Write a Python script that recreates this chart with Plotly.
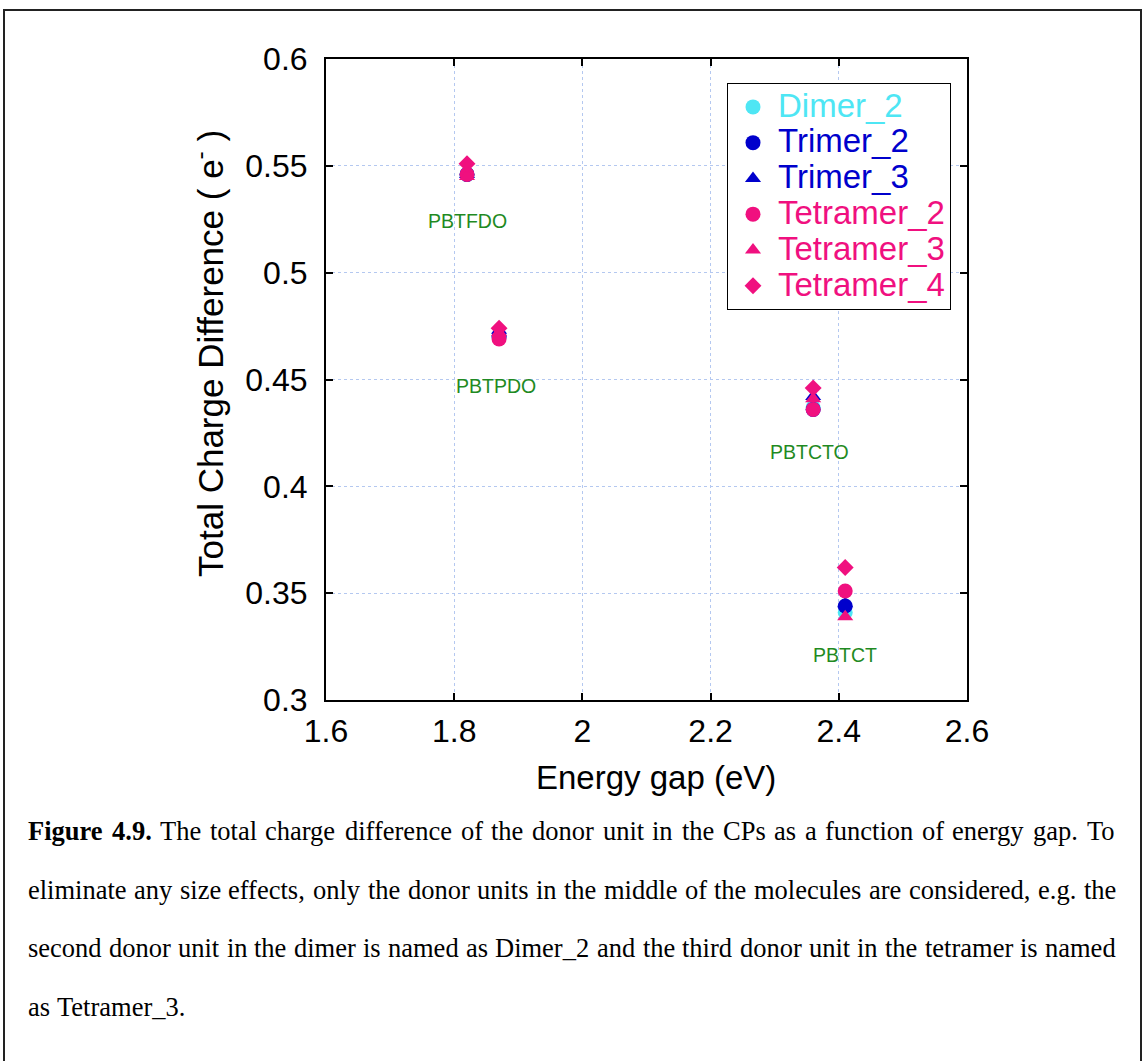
import plotly.graph_objects as go

# Polymer energy gaps (eV)
energy_gap = [1.82, 1.87, 2.36, 2.41]
polymers = ["PBTFDO", "PBTPDO", "PBTCTO", "PBTCT"]

# Total charge difference of the middle donor unit (e-)
dimer_2 = [0.546, 0.470, 0.437, 0.341]
trimer_2 = [0.546, 0.470, 0.436, 0.344]
trimer_3 = [0.546, 0.473, 0.442, 0.345]
tetramer_2 = [0.546, 0.469, 0.436, 0.351]
tetramer_3 = [0.545, 0.472, 0.441, 0.339]
tetramer_4 = [0.551, 0.474, 0.446, 0.362]

# label anchor positions for the polymer names
label_x = [1.82, 1.865, 2.355, 2.41]
label_y = [0.524, 0.447, 0.416, 0.321]

CYAN = "#4ee6f4"
BLUE = "#0000cc"
PINK = "#f0107f"
GREEN = "#1f8a22"

series = [
    ("Dimer_2", dimer_2, CYAN, "circle", 15),
    ("Trimer_2", trimer_2, BLUE, "circle", 15),
    ("Trimer_3", trimer_3, BLUE, "triangle-up", 14),
    ("Tetramer_2", tetramer_2, PINK, "circle", 15),
    ("Tetramer_3", tetramer_3, PINK, "triangle-up", 14),
    ("Tetramer_4", tetramer_4, PINK, "diamond", 13),
]

fig = go.Figure()
for name, vals, color, symbol, size in series:
    fig.add_trace(go.Scatter(
        x=energy_gap, y=vals, mode="markers",
        name=f"<span style='color:{color};font-size:33px'>{name}</span>",
        marker=dict(color=color, symbol=symbol, size=size, line=dict(width=0)),
    ))

# size of the plotting region in pixels (used to place page-level items)
L, R, T, B = 326, 176, 59, 361
W, H = 1143, 1061
PW, PH = W - L - R, H - T - B


def px(x):
    return (x - L) / PW


def py(y):
    return (H - B - y) / PH


annotations = []
for name, lx, ly in zip(polymers, label_x, label_y):
    annotations.append(dict(
        x=lx, y=ly, xref="x", yref="y", text=name, showarrow=False,
        font=dict(family="Liberation Sans, Arial", size=19.5, color=GREEN),
        xanchor="center", yanchor="middle",
    ))

# axis titles
annotations.append(dict(
    x=px(656), y=py(777), xref="paper", yref="paper", text="Energy gap (eV)",
    showarrow=False, xanchor="center", yanchor="middle",
    font=dict(family="Liberation Sans, Arial", size=33, color="black"),
))
annotations.append(dict(
    x=px(208), y=py(354), xref="paper", yref="paper",
    text="Total Charge Difference ( e<sup>-</sup> )", textangle=-90,
    showarrow=False, xanchor="center", yanchor="middle",
    font=dict(family="Liberation Sans, Arial", size=35, color="black"),
))

# ---- caption, set as a justified paragraph -------------------------------
# Times advance widths (1/1000 em) for regular and bold faces
TIMES = {
    " ": 250, ",": 250, ".": 250, "_": 500, "-": 333,
    "0": 500, "1": 500, "2": 500, "3": 500, "4": 500, "5": 500, "6": 500,
    "7": 500, "8": 500, "9": 500,
    "C": 667, "D": 722, "F": 556, "P": 556, "T": 611,
    "a": 444, "b": 500, "c": 444, "d": 500, "e": 444, "f": 333, "g": 500,
    "h": 500, "i": 278, "j": 278, "k": 500, "l": 278, "m": 778, "n": 500,
    "o": 500, "p": 500, "q": 500, "r": 333, "s": 389, "t": 278, "u": 500,
    "v": 500, "w": 722, "x": 500, "y": 500, "z": 444,
}
TIMES_BOLD = dict(TIMES, F=611, u=556, r=444)

CAP_SIZE = 26.5
CAP_LEFT, CAP_RIGHT = 28, 1116
caption_lead = "Figure 4.9."
caption = [
    "Figure 4.9. The total charge difference of the donor unit in the CPs as a function of energy gap. To",
    "eliminate any size effects, only the donor units in the middle of the molecules are considered, e.g. the",
    "second donor unit in the dimer is named as Dimer_2 and the third donor unit in the tetramer is named",
    "as Tetramer_3.",
]
caption_y = [831, 890, 948, 1007]


def word_width(word, bold):
    table = TIMES_BOLD if bold else TIMES
    return sum(table.get(ch, 500) for ch in word) * CAP_SIZE / 1000


for li, (line, cy) in enumerate(zip(caption, caption_y)):
    words = line.split(" ")
    n_bold = len(caption_lead.split(" ")) if li == 0 else 0
    bolds = [i < n_bold for i in range(len(words))]
    widths = [word_width(w, b) for w, b in zip(words, bolds)]
    last = li == len(caption) - 1
    if last or len(words) < 2:
        gap = TIMES[" "] * CAP_SIZE / 1000
    else:
        gap = (CAP_RIGHT - CAP_LEFT - sum(widths)) / (len(words) - 1)
    x = CAP_LEFT
    for w, b, wd in zip(words, bolds, widths):
        annotations.append(dict(
            x=px(x), y=py(cy), xref="paper", yref="paper",
            text=f"<b>{w}</b>" if b else w,
            showarrow=False, xanchor="left", yanchor="middle",
            borderpad=0, borderwidth=0,
            font=dict(family="Liberation Serif, Times New Roman", size=CAP_SIZE, color="black"),
        ))
        x += wd + gap

fig.update_layout(
    width=W, height=H,
    margin=dict(l=L, r=R, t=T, b=B, autoexpand=False),
    paper_bgcolor="white", plot_bgcolor="white",
    font=dict(family="Liberation Sans, Arial", color="black"),
    showlegend=True,
    legend=dict(
        x=px(727), y=py(83), xanchor="left", yanchor="top",
        bgcolor="white", bordercolor="black", borderwidth=1,
        font=dict(family="Liberation Sans, Arial", size=25.2),
        itemsizing="trace", itemwidth=40, tracegroupgap=0,
    ),
    annotations=annotations,
    shapes=[dict(
        type="rect", xref="paper", yref="paper",
        x0=px(4), x1=px(1141), y0=py(1100), y1=py(10),
        line=dict(color="#222222", width=2), fillcolor="rgba(0,0,0,0)", layer="below",
    )],
)

axis_style = dict(
    tickfont=dict(size=32), ticks="inside", ticklen=7, tickwidth=1.5, tickcolor="black",
    showline=True, linecolor="black", linewidth=2, mirror="ticks",
    showgrid=True, gridcolor="#b4c8f0", griddash="dot", gridwidth=1,
    zeroline=False,
)
fig.update_xaxes(
    range=[1.6, 2.6], tickvals=[1.6, 1.8, 2.0, 2.2, 2.4, 2.6],
    ticktext=["1.6", "1.8", "2", "2.2", "2.4", "2.6"],
    ticklabelstandoff=2,
    **axis_style,
)
fig.update_yaxes(
    range=[0.3, 0.6], tickvals=[0.3, 0.35, 0.4, 0.45, 0.5, 0.55, 0.6],
    ticktext=["0.3", "0.35", "0.4", "0.45", "0.5", "0.55", "0.6"],
    ticklabelstandoff=10,
    **axis_style,
)

fig.write_html("out.html")
